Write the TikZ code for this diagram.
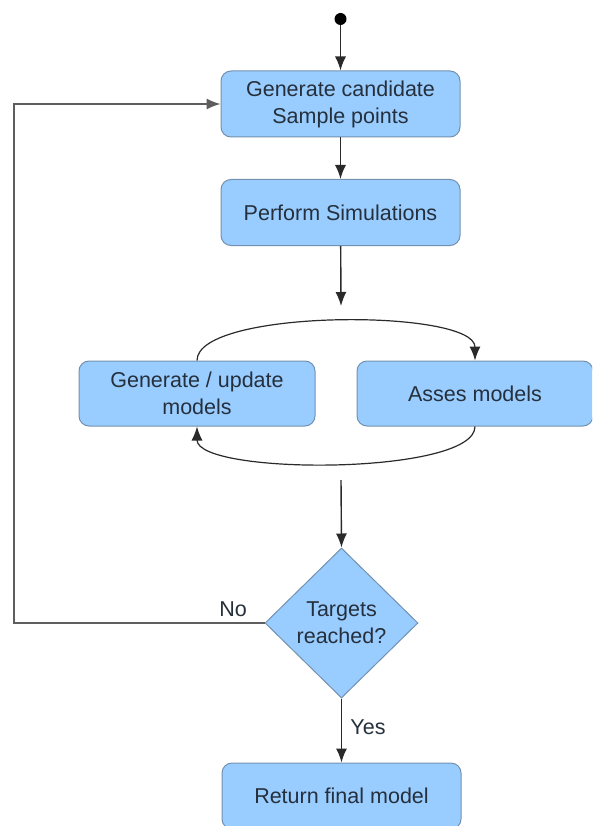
\documentclass[tikz,border=0pt]{standalone}
\usepackage{fontspec}
\setmainfont{Liberation Sans}
\usetikzlibrary{arrows.meta,shapes.geometric,calc}

\definecolor{boxfill}{HTML}{99CCFF}
\definecolor{boxedge}{HTML}{7391AF}
\definecolor{boxtext}{HTML}{25303C}
\definecolor{wire}{HTML}{2A2A2A}
\definecolor{backwire}{HTML}{5E5E5E}

\tikzset{
  stepbox/.style={draw=boxedge, fill=boxfill, rounded corners=10pt, line width=1pt,
    minimum width=239pt, minimum height=66pt, align=center, inner sep=0pt,
    text=boxtext, font=\fontsize{21.5}{27}\selectfont},
  decision/.style={draw=boxedge, fill=boxfill, diamond, line width=1pt, inner sep=0pt,
    minimum width=153pt, minimum height=150pt, align=center,
    text=boxtext, font=\fontsize{21.5}{27}\selectfont},
  flow/.style={draw=wire, line width=1.4pt, -{Latex[length=14pt,width=11pt]}},
  backflow/.style={draw=backwire, line width=1.2pt, -{Latex[length=14pt,width=11pt]}},
  lbl/.style={text=boxtext, font=\fontsize{21.5}{27}\selectfont, inner sep=0pt},
}

\begin{document}
\begin{tikzpicture}[x=1pt, y=-1pt]
  \clip (0,0) rectangle (592,826);

  % initial state
  \node[circle, fill=black, inner sep=0pt, minimum size=12pt] (start) at (340.5,19) {};

  % process steps
  \node[stepbox] (gen) at (340.5,104) {Generate candidate\\Sample points};
  \node[stepbox] (sim) at (340.5,212.5) {Perform Simulations};
  \node[stepbox, minimum width=236pt, minimum height=65pt] (upd) at (197,393.5) {Generate / update\\models};
  \node[stepbox, minimum width=236pt, minimum height=65pt] (ass) at (475,393.5) {Asses models};
  \node[decision] (dec) at (341.5,623) {Targets\\reached?};
  \node[stepbox] (ret) at (341.5,796) {Return final model};

  % free ends of the arrows entering and leaving the modelling loop
  \coordinate (loopin) at (341,306);
  \coordinate (loopout) at (341,480);
  \coordinate (corner) at (14,623);

  % main flow
  \draw[flow] (start) -- (gen);
  \draw[flow] (gen) -- (sim);
  \draw[flow] (sim) -- (loopin);
  \draw[flow] (loopout) -- (dec.north);
  \draw[flow] (dec.south) -- (ret.north);

  % modelling loop
  \draw[flow, line width=1.2pt] (upd.north) .. controls +(0,-52) and +(0,-52) .. (ass.north);
  \draw[flow, line width=1.2pt] (ass.south) .. controls +(0,49) and +(0,49) .. (upd.south);

  % retry path
  \draw[backflow] (dec.west) -- (corner) |- (gen.west);

  % branch labels
  \node[lbl] (nolbl) at (233,609) {No};
  \node[lbl] (yeslbl) at (368,727) {Yes};
\end{tikzpicture}
\end{document}
